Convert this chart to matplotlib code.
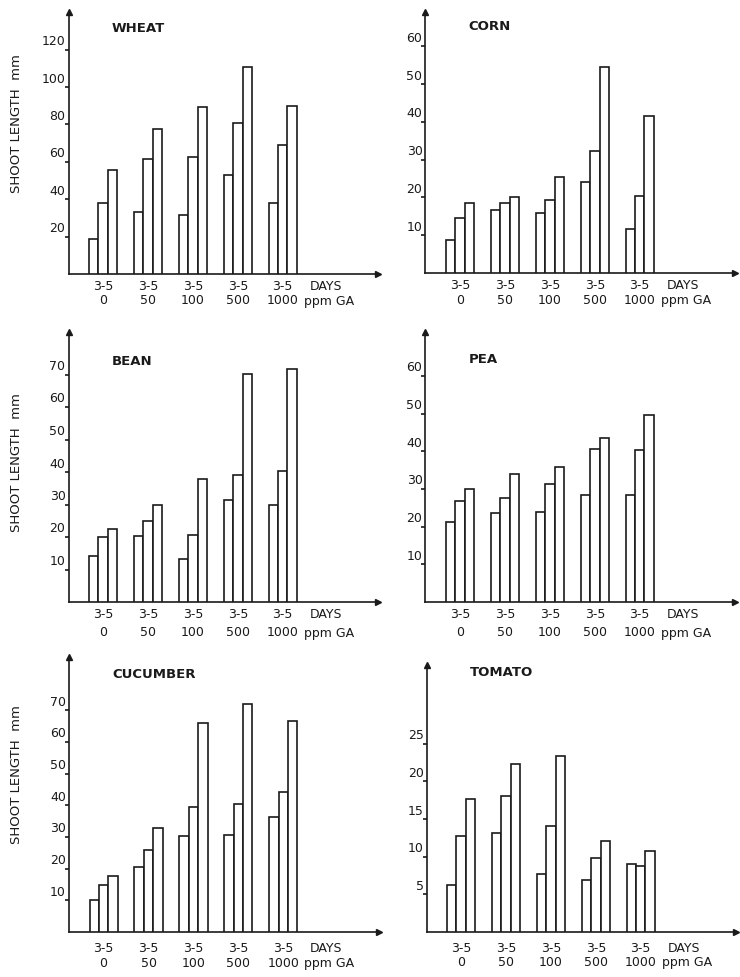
import matplotlib
matplotlib.use('Agg')
import matplotlib.pyplot as plt
from matplotlib.transforms import offset_copy
import numpy as np

plt.rcParams['font.family'] = ['DejaVu Sans']

# ---------------- data ----------------
ppm_labels = ['0', '50', '100', '500', '1000']
day_label = '3-5'
crops = ['WHEAT', 'CORN', 'BEAN', 'PEA', 'CUCUMBER', 'TOMATO']

wheat_day3 = [18.6, 33.2, 31.4, 52.7, 37.8]
wheat_day4 = [38.1, 61.6, 62.5, 80.8, 68.9]
wheat_day5 = [55.4, 77.8, 89.3, 110.5, 89.7]

corn_day3 = [8.8, 16.7, 16.0, 24.2, 11.6]
corn_day4 = [14.5, 18.5, 19.3, 32.3, 20.4]
corn_day5 = [18.4, 20.0, 25.4, 54.5, 41.5]

bean_day3 = [14.2, 20.3, 13.1, 31.3, 29.7]
bean_day4 = [20.0, 24.9, 20.5, 39.0, 40.2]
bean_day5 = [22.4, 29.7, 37.9, 70.3, 71.8]

pea_day3 = [21.2, 23.5, 23.9, 28.3, 28.3]
pea_day4 = [26.7, 27.7, 31.4, 40.5, 40.3]
pea_day5 = [29.9, 34.0, 35.8, 43.6, 49.6]

cucumber_day3 = [10.0, 20.5, 30.2, 30.7, 36.3]
cucumber_day4 = [14.9, 25.8, 39.5, 40.5, 44.2]
cucumber_day5 = [17.6, 32.8, 65.8, 71.8, 66.5]

tomato_day3 = [6.2, 13.2, 7.7, 6.9, 9.0]
tomato_day4 = [12.7, 18.0, 14.1, 9.8, 8.7]
tomato_day5 = [17.6, 22.3, 23.4, 12.1, 10.8]

wheat_ticks = [20, 40, 60, 80, 100, 120]
corn_ticks = [10, 20, 30, 40, 50, 60]
bean_ticks = [10, 20, 30, 40, 50, 60, 70]
pea_ticks = [10, 20, 30, 40, 50, 60]
cucumber_ticks = [10, 20, 30, 40, 50, 60, 70]
tomato_ticks = [5, 10, 15, 20, 25]

series = {
    'WHEAT': (wheat_day3, wheat_day4, wheat_day5, wheat_ticks),
    'CORN': (corn_day3, corn_day4, corn_day5, corn_ticks),
    'BEAN': (bean_day3, bean_day4, bean_day5, bean_ticks),
    'PEA': (pea_day3, pea_day4, pea_day5, pea_ticks),
    'CUCUMBER': (cucumber_day3, cucumber_day4, cucumber_day5, cucumber_ticks),
    'TOMATO': (tomato_day3, tomato_day4, tomato_day5, tomato_ticks),
}

# ---------------- layout (pixels) ----------------
W, H = 740, 978
# axis_x, baseline_y, arrow_top_y, px_per_unit, title_y, row1, row2, ylabel_y (None = no label)
layout = {
    'WHEAT':    (68.5, 275, 13, 1.87, 28, 12, 26, 124),
    'CORN':     (425.5, 274, 13, 3.78, 27, 12, 27, None),
    'BEAN':     (68.5, 603, 333, 3.25, 362, 12, 30, 463),
    'PEA':      (425.5, 603, 333, 3.77, 360, 12, 30, None),
    'CUCUMBER': (69, 933, 658, 3.17, 675, 16, 31, 775),
    'TOMATO':   (426.5, 933, 666, 7.53, 673, 16, 30, None),
}
axis_w = 309.5
grp_sp = 44.9
first_c = 34.6
bar_w_px = 9.4
line_c = '#1a1a1a'
lw = 1.2
fs = 9

fig = plt.figure(figsize=(W / 100, H / 100), dpi=100)
fig.patch.set_facecolor('white')

for crop in crops:
    d3, d4, d5, ticks = series[crop]
    ax_x, base, top, scale, ty, r1, r2, ylab_y = layout[crop]
    h = base - top
    ax = fig.add_axes([ax_x / W, 1 - base / H, axis_w / W, h / H])
    ax.set_facecolor('none')
    x0 = -first_c / grp_sp
    ax.set_xlim(x0, x0 + axis_w / grp_sp)
    ax.set_ylim(0, h / scale)
    x = np.arange(len(ppm_labels))
    bw = bar_w_px / grp_sp
    for k, vals in enumerate((d3, d4, d5)):
        ax.bar(x + (k - 1) * bw, vals, width=bw, facecolor='white',
               edgecolor=line_c, linewidth=lw, zorder=3)
    for s in ('top', 'right'):
        ax.spines[s].set_visible(False)
    for s in ('left', 'bottom'):
        ax.spines[s].set_color(line_c)
        ax.spines[s].set_linewidth(lw)
    ax.set_xticks([])
    ax.set_yticks(ticks)
    ax.tick_params(axis='y', length=3, width=lw, color=line_c,
                   direction='out', labelleft=False)
    # arrowheads
    ax.plot([0], [1], marker='^', markersize=4, color=line_c,
            transform=ax.transAxes, clip_on=False)
    ax.plot([1], [0], marker='>', markersize=4, color=line_c,
            transform=ax.transAxes, clip_on=False)
    # y tick labels, sitting above their ticks
    ytr = offset_copy(ax.get_yaxis_transform(), fig=fig, x=-3, y=9, units='dots')
    for v in ticks:
        ax.text(0, v, str(v), transform=ytr, ha='right', va='center',
                fontsize=fs, color=line_c)
    # x labels
    tr1 = offset_copy(ax.get_xaxis_transform(), fig=fig, y=-r1, units='dots')
    tr2 = offset_copy(ax.get_xaxis_transform(), fig=fig, y=-r2, units='dots')
    for i, lab in enumerate(ppm_labels):
        ax.text(x[i], 0, day_label, transform=tr1, ha='center', va='center',
                fontsize=fs, color=line_c)
        ax.text(x[i], 0, lab, transform=tr2, ha='center', va='center',
                fontsize=fs, color=line_c)
    trd = offset_copy(ax.get_xaxis_transform(), fig=fig, x=27, y=-r1, units='dots')
    trp = offset_copy(ax.get_xaxis_transform(), fig=fig, x=21, y=-r2, units='dots')
    ax.text(x[-1], 0, 'DAYS', transform=trd, ha='left', va='center',
            fontsize=fs, color=line_c)
    ax.text(x[-1], 0, 'ppm GA', transform=trp, ha='left', va='center',
            fontsize=fs, color=line_c)
    # title
    fig.text((ax_x + 43) / W, 1 - ty / H, crop, ha='left', va='center',
             fontsize=9.5, fontweight='bold', color=line_c)
    if ylab_y is not None:
        fig.text(17 / W, 1 - ylab_y / H, 'SHOOT LENGTH  mm',
                 rotation=90, ha='center', va='center', fontsize=9.5,
                 color=line_c)

fig.savefig('out.png', dpi=100, facecolor='white')
